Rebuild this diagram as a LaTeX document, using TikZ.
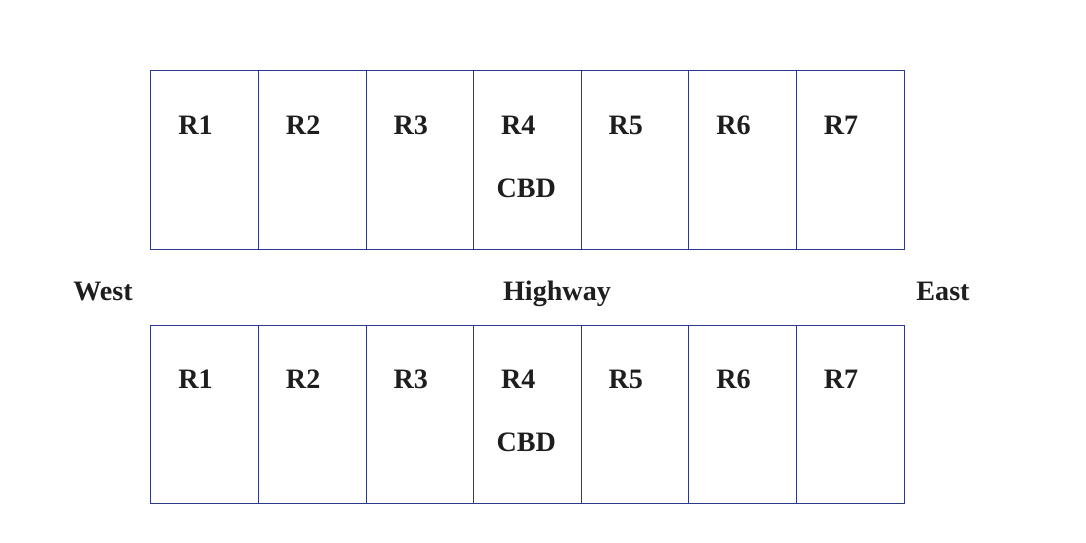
\documentclass[tikz,border=0pt]{standalone}
\usepackage{fontspec}
\setmainfont{Liberation Serif}
\usetikzlibrary{positioning, calc}

\definecolor{cellblue}{RGB}{45,55,140}
\definecolor{labelgray}{RGB}{30,30,30}

\begin{document}
\begin{tikzpicture}[
    x=0.025cm, y=-0.025cm,
    cell/.style={rectangle, draw=cellblue, line width=0.7pt, minimum width=2.69cm, minimum height=4.45cm, inner sep=0pt},
    lab/.style={font=\fontsize{20}{24}\selectfont\bfseries, text=labelgray, inner sep=0pt, anchor=base}
]
\useasboundingbox (0,0) rectangle (1086,542);

% ============ ROWS OF REGIONS ============
\foreach \i in {1,...,7} {
    \node[cell] (t\i) at ({151+107.57*(\i-0.5)}, 160) {};
    \node[cell] (b\i) at ({151+107.57*(\i-0.5)}, 414.5) {};
    \node[lab] (tl\i) at ([xshift=-0.23cm, yshift=0.65cm]t\i.center) {R\i};
    \node[lab] (bl\i) at ([xshift=-0.23cm, yshift=0.65cm]b\i.center) {R\i};
}

% CBD in R4
\node[lab] (tcbd) at ([xshift=-0.03cm, yshift=-0.93cm]t4.center) {CBD};
\node[lab] (bcbd) at ([xshift=-0.03cm, yshift=-0.93cm]b4.center) {CBD};

% ============ HIGHWAY ============
\node[lab] (west) at (103, 300) {West};
\node[lab] (highway) at (557, 300) {Highway};
\node[lab] (east) at (943, 300) {East};

\end{tikzpicture}
\end{document}
